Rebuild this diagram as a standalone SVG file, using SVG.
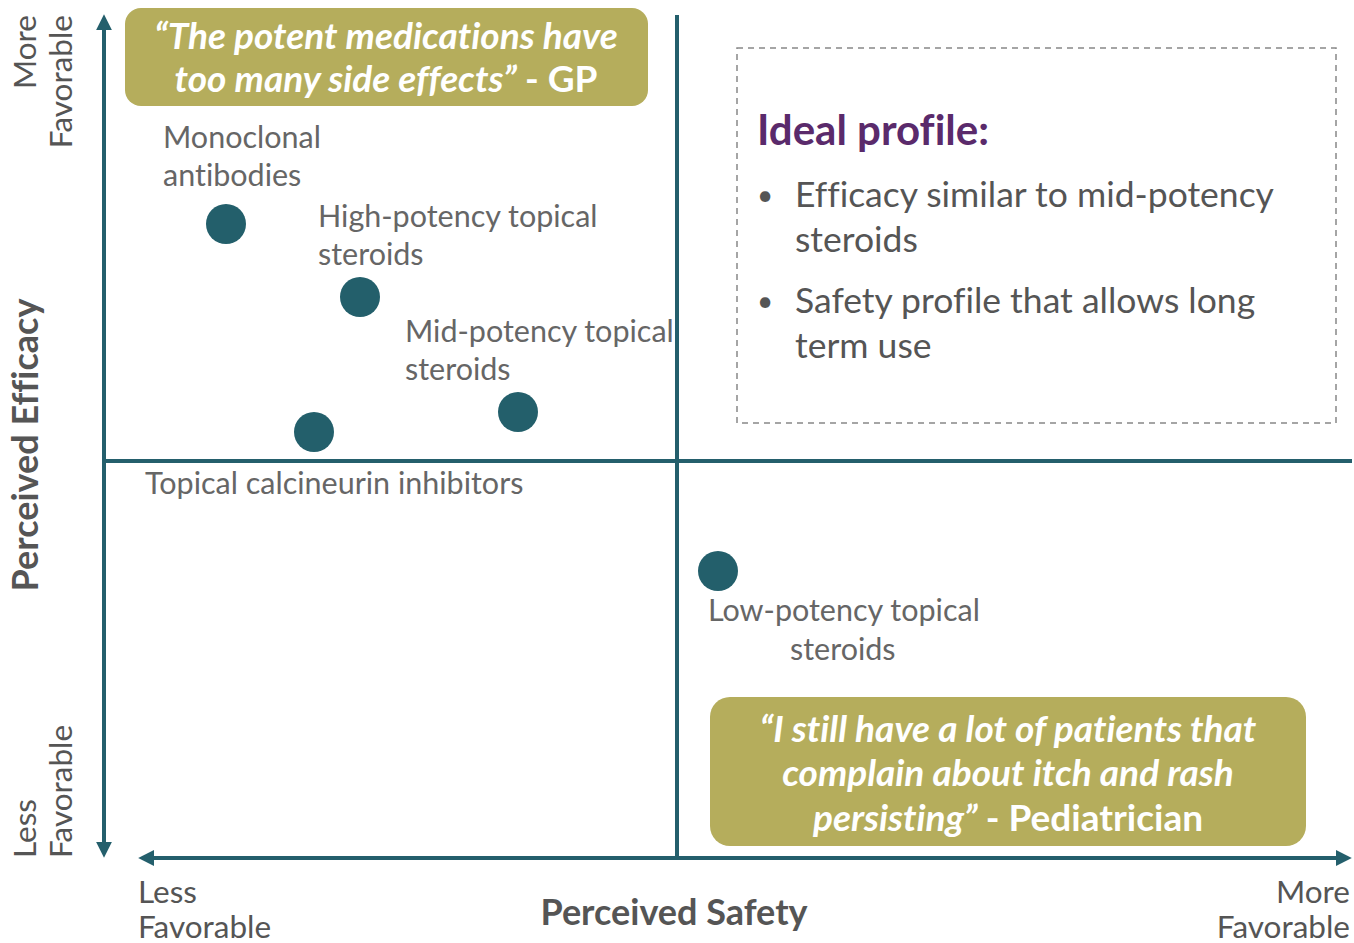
<svg xmlns="http://www.w3.org/2000/svg" width="1354" height="943" viewBox="0 0 1354 943">
<style>
text{font-variant-ligatures:none}
.ax{stroke:#245f6c;stroke-width:4;fill:none}
.dot{fill:#235f6b}
.lbl{font-family:Lato,"Liberation Sans",sans-serif;font-size:30.5px;fill:#666}
.axl{font-family:Lato,"Liberation Sans",sans-serif;font-size:31.5px;fill:#555}
.ttl{font-family:Lato,"Liberation Sans",sans-serif;font-size:36px;font-weight:bold;fill:#555}
.q{fill:#b5ad5c}
.qt{font-family:Lato,"Liberation Sans",sans-serif;font-size:37px;font-weight:bold;font-style:italic;fill:#fff;text-anchor:middle}
.qn{font-style:normal}
.bl{font-family:Lato,"Liberation Sans",sans-serif;font-size:35.5px;fill:#555}
.bu{font-family:Lato,"Liberation Sans",sans-serif;font-size:28px;fill:#555}
</style>
<defs>
<marker id="ah" viewBox="0 0 10 10" refX="2" refY="5" markerWidth="4" markerHeight="4" orient="auto-start-reverse">
<path d="M0,0 L10,5 L0,10 z" fill="#245f6c"/>
</marker>
</defs>
<g id="connectors">
<line class="ax" x1="104" y1="27" x2="104" y2="845" marker-start="url(#ah)" marker-end="url(#ah)"/>
<line class="ax" x1="151" y1="858" x2="1339" y2="858" marker-start="url(#ah)" marker-end="url(#ah)"/>
<line class="ax" x1="677" y1="15" x2="677" y2="858"/>
<line class="ax" x1="104" y1="461" x2="1352" y2="461"/>
</g>
<g id="axis-labels">
<text class="ttl" transform="translate(38,445) rotate(-90)" text-anchor="middle">Perceived Efficacy</text>
<text class="ttl" x="674" y="925" text-anchor="middle">Perceived Safety</text>
<text class="axl" transform="translate(36,15) rotate(-90)" text-anchor="end">More</text>
<text class="axl" transform="translate(72,15) rotate(-90)" text-anchor="end">Favorable</text>
<text class="axl" transform="translate(36,858) rotate(-90)">Less</text>
<text class="axl" transform="translate(72,858) rotate(-90)">Favorable</text>
<text class="axl" x="138" y="903">Less</text>
<text class="axl" x="138" y="938">Favorable</text>
<text class="axl" x="1350" y="903" text-anchor="end">More</text>
<text class="axl" x="1350" y="938" text-anchor="end">Favorable</text>
</g>
<g id="quote-gp">
<rect class="q" x="125" y="8" width="523" height="98" rx="16"/>
<text class="qt" x="386" y="49">“The potent medications have</text>
<text class="qt" x="386" y="92">too many side effects” <tspan class="qn">- GP</tspan></text>
</g>
<g id="quote-ped">
<rect class="q" x="710" y="697" width="596" height="149" rx="20"/>
<text class="qt" x="1008" y="742">“I still have a lot of patients that</text>
<text class="qt" x="1008" y="786">complain about itch and rash</text>
<text class="qt" x="1008" y="831">persisting” <tspan class="qn">- Pediatrician</tspan></text>
</g>
<g id="ideal-profile">
<rect x="737" y="48" width="599" height="375" fill="none" stroke="#888" stroke-width="1.5" stroke-dasharray="6,5"/>
<text x="757" y="145" font-family="Lato,'Liberation Sans',sans-serif" font-size="42" font-weight="bold" fill="#5a2a6b">Ideal profile:</text>
<text class="bu" x="757" y="205">•</text>
<text class="bl" x="795" y="207">Efficacy similar to mid-potency</text>
<text class="bl" x="795" y="252">steroids</text>
<text class="bu" x="757" y="311">•</text>
<text class="bl" x="795" y="313">Safety profile that allows long</text>
<text class="bl" x="795" y="358">term use</text>
</g>
<g id="monoclonal">
<circle class="dot" cx="226" cy="224" r="20"/>
<text class="lbl" x="163" y="148">Monoclonal</text>
<text class="lbl" x="163" y="186">antibodies</text>
</g>
<g id="high-potency">
<circle class="dot" cx="360" cy="297" r="20"/>
<text class="lbl" x="318" y="227">High-potency topical</text>
<text class="lbl" x="318" y="265">steroids</text>
</g>
<g id="mid-potency">
<circle class="dot" cx="518" cy="412" r="20"/>
<text class="lbl" x="405" y="342">Mid-potency topical</text>
<text class="lbl" x="405" y="380">steroids</text>
</g>
<g id="calcineurin">
<circle class="dot" cx="314" cy="432" r="20"/>
<text class="lbl" x="145" y="494">Topical calcineurin inhibitors</text>
</g>
<g id="low-potency">
<circle class="dot" cx="718" cy="571" r="20"/>
<text class="lbl" x="708" y="621">Low-potency topical</text>
<text class="lbl" x="790" y="660">steroids</text>
</g>
</svg>
